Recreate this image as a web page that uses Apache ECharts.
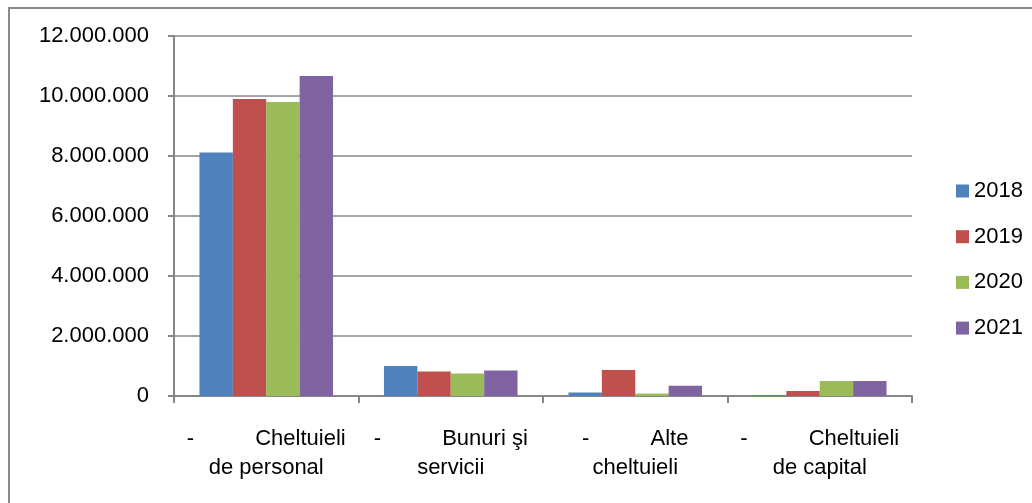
<!DOCTYPE html>
<html>
<head>
<meta charset="utf-8">
<script src="https://cdn.jsdelivr.net/npm/echarts@6/dist/echarts.min.js"></script>
<style>
  html, body { margin: 0; padding: 0; background: #fff; }
  #chart { width: 1032px; height: 503px; }
</style>
</head>
<body>
<div id="chart"></div>
<script>
// Expense categories (two-line labels, leading dash as in the source table)
const categories = [
  '-          Cheltuieli\nde personal',
  '-          Bunuri şi\nservicii',
  '-          Alte\ncheltuieli',
  '-          Cheltuieli\nde capital'
];
const years = ['2018', '2019', '2020', '2021'];

// Amounts per category, one array per year
const values2018 = [8120000, 1000000, 120000, 30000];
const values2019 = [9900000, 820000, 870000, 170000];
const values2020 = [9800000, 750000, 80000, 500000];
const values2021 = [10670000, 850000, 340000, 500000];

const yTicks = { min: 0, max: 12000000, interval: 2000000 };
const colors = ['#4F81BD', '#C0504D', '#9BBB59', '#8064A2'];

const font = 'Liberation Sans, Arial, sans-serif';
const seriesValues = [values2018, values2019, values2020, values2021];

function fmt(v) {
  return String(v).replace(/\B(?=(\d{3})+(?!\d))/g, '.');
}

const chart = echarts.init(document.getElementById('chart'), null, { renderer: 'canvas' });
chart.setOption({
  animation: false,
  backgroundColor: '#fff',
  color: colors,
  graphic: [{
    type: 'rect',
    shape: { x: 9, y: 8, width: 1040, height: 520 },
    style: { fill: 'none', stroke: '#8a8a8a', lineWidth: 2 },
    silent: true
  }],
  grid: { left: 174, right: 120, top: 36, bottom: 107, containLabel: false },
  legend: {
    orient: 'vertical',
    left: 951,
    top: 174,
    itemWidth: 13,
    itemHeight: 13,
    itemGap: 21.7,
    icon: 'rect',
    textStyle: { fontFamily: font, fontSize: 22, color: '#000', lineHeight: 24 },
    data: years
  },
  xAxis: {
    type: 'category',
    data: categories,
    axisLine: { lineStyle: { color: '#868686', width: 2 } },
    axisTick: { show: true, length: 7, lineStyle: { color: '#868686', width: 2 } },
    axisLabel: {
      interval: 0,
      margin: 28,
      fontFamily: font,
      fontSize: 22,
      lineHeight: 29,
      color: '#000',
      align: 'center'
    }
  },
  yAxis: {
    type: 'value',
    min: yTicks.min,
    max: yTicks.max,
    interval: yTicks.interval,
    axisLine: { show: true, lineStyle: { color: '#868686', width: 2 } },
    axisTick: { show: true, length: 6, lineStyle: { color: '#868686', width: 2 } },
    splitLine: { lineStyle: { color: '#868686', width: 1.5 } },
    axisLabel: {
      margin: 25,
      fontFamily: font,
      fontSize: 22,
      color: '#000',
      formatter: fmt
    }
  },
  series: years.map((y, i) => ({
    name: y,
    type: 'bar',
    data: seriesValues[i],
    barGap: '0%',
    barCategoryGap: '27.6%',
    itemStyle: { color: colors[i] }
  }))
});
</script>
</body>
</html>
